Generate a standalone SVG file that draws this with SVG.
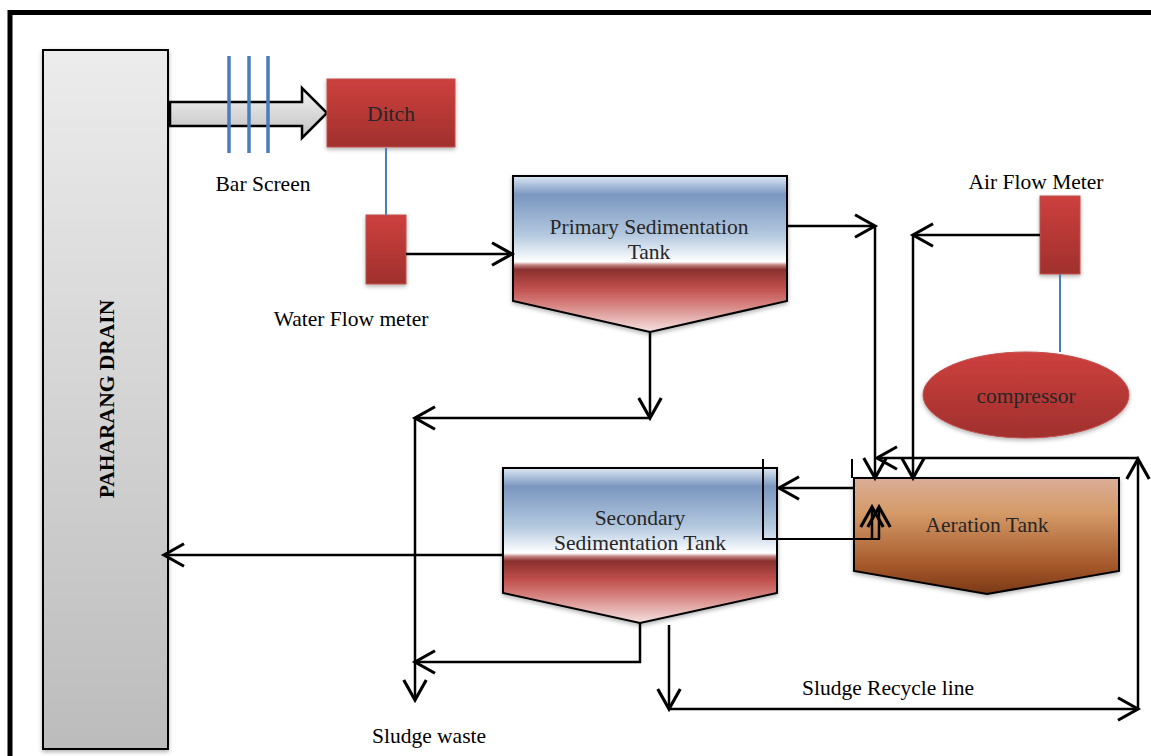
<svg xmlns="http://www.w3.org/2000/svg" width="1151" height="756" viewBox="0 0 1151 756">
<style>
.lbl{font-family:"Liberation Serif","Times New Roman",serif;font-size:21.5px;fill:#000;text-anchor:middle}
.in{font-family:"Liberation Serif","Times New Roman",serif;font-size:21.5px;fill:#262626;text-anchor:middle}
.con{fill:none;stroke:#000;stroke-width:2.5}
.thin{fill:none;stroke:#000;stroke-width:2}
.blue{fill:none;stroke:#4a7ebb;stroke-width:2}
.bar{fill:none;stroke:#4a7ebb;stroke-width:3.5}
.red{fill:url(#gRed);stroke:#c0504d;stroke-width:1;filter:url(#sh)}
.tank{stroke:#000;stroke-width:2;filter:url(#sh)}
</style>
<defs>
<marker id="ah" markerUnits="userSpaceOnUse" markerWidth="30" markerHeight="30" viewBox="-20 -12 24 24" refX="0" refY="0" orient="auto">
<path d="M-16,-9 L0,0 L-16,9" fill="none" stroke="#000" stroke-width="2.5"/>
</marker>
<linearGradient id="gRed" x1="0" y1="0" x2="0" y2="1">
<stop offset="0" stop-color="#cd403e"/>
<stop offset="1" stop-color="#a0302d"/>
</linearGradient>
<linearGradient id="gDrain" x1="0" y1="0" x2="0" y2="1">
<stop offset="0" stop-color="#ececec"/>
<stop offset="1" stop-color="#bcbcbc"/>
</linearGradient>
<linearGradient id="gArrow" x1="0" y1="0" x2="0" y2="1">
<stop offset="0" stop-color="#f4f4f4"/>
<stop offset="1" stop-color="#bfbfbf"/>
</linearGradient>
<linearGradient id="gSed" x1="0" y1="0" x2="0" y2="1">
<stop offset="0" stop-color="#dce8f3"/>
<stop offset="0.12" stop-color="#7a96c0"/>
<stop offset="0.38" stop-color="#b4c9df"/>
<stop offset="0.52" stop-color="#f2f6fa"/>
<stop offset="0.55" stop-color="#ffffff"/>
<stop offset="0.57" stop-color="#c48584"/>
<stop offset="0.60" stop-color="#8a302e"/>
<stop offset="0.72" stop-color="#c0504d"/>
<stop offset="0.82" stop-color="#d57f7c"/>
<stop offset="1" stop-color="#f4e2e1"/>
</linearGradient>
<linearGradient id="gAer" x1="0" y1="0" x2="0" y2="1">
<stop offset="0" stop-color="#dbae98"/>
<stop offset="0.3" stop-color="#d49a68"/>
<stop offset="0.75" stop-color="#a6592b"/>
<stop offset="1" stop-color="#7a3816"/>
</linearGradient>
<filter id="sh" x="-10%" y="-10%" width="120%" height="130%">
<feDropShadow dx="0" dy="2" stdDeviation="2" flood-color="#000" flood-opacity="0.3"/>
</filter>
</defs>

<path d="M10,760 V12.5 H1160" fill="none" stroke="#000" stroke-width="5"/>

<g id="paharang-drain">
<rect x="43" y="50" width="125" height="699" fill="url(#gDrain)" stroke="#000" stroke-width="2" filter="url(#sh)"/>
<text transform="translate(114,399) rotate(-90)" font-family="Liberation Serif,Times New Roman,serif" font-size="21.5" font-weight="bold" text-anchor="middle" fill="#000">PAHARANG DRAIN</text>
</g>

<g id="inflow-arrow">
<path d="M170,102 H302 V88 L327,113 L302,138 V126 H170 Z" fill="url(#gArrow)" stroke="#000" stroke-width="2.5"/>
</g>

<g id="bar-screen">
<path class="bar" d="M229,56 V153 M249,56 V153 M268,56 V153"/>
<text class="lbl" x="263" y="191">Bar Screen</text>
</g>

<g id="ditch">
<rect class="red" x="327" y="79" width="128" height="68"/>
<text class="in" x="391" y="121">Ditch</text>
</g>

<g id="water-flow-meter">
<rect class="red" x="366" y="215" width="40" height="69"/>
<text class="lbl" x="351" y="326">Water Flow meter</text>
</g>

<g id="primary-tank">
<polygon class="tank" points="513,176 787,176 787,301 650,332 513,301" fill="url(#gSed)"/>
<text class="in" x="649" y="234">Primary Sedimentation</text>
<text class="in" x="649" y="259">Tank</text>
</g>

<g id="air-flow-meter">
<rect class="red" x="1040" y="196" width="40" height="78"/>
<text class="lbl" x="1036" y="189">Air Flow Meter</text>
</g>

<g id="compressor">
<ellipse class="red" cx="1026" cy="395" rx="103" ry="43"/>
<text class="in" x="1026" y="403">compressor</text>
</g>

<g id="aeration-tank">
<polygon class="tank" points="854,478 1119,478 1119,571 987,594 854,571" fill="url(#gAer)"/>
<text class="in" x="987" y="532">Aeration Tank</text>
</g>

<g id="secondary-tank">
<polygon class="tank" points="503,468 777,468 777,593 640,623 503,593" fill="url(#gSed)"/>
<text class="in" x="640" y="525">Secondary</text>
<text class="in" x="640" y="550">Sedimentation Tank</text>
</g>

<g id="labels">
<text class="lbl" x="429" y="743">Sludge waste</text>
<text class="lbl" x="888" y="695">Sludge Recycle line</text>
</g>

<g id="connectors">
<path class="blue" d="M386,148 V215"/>
<path class="blue" d="M1060,274 V352"/>
<path class="con" d="M406,254 H512" marker-end="url(#ah)"/>
<path class="con" d="M787,226 H875" marker-end="url(#ah)"/>
<path class="con" d="M875,226 V478" marker-end="url(#ah)"/>
<path class="con" d="M1040,235 H913" marker-end="url(#ah)"/>
<path class="con" d="M913,235 V478" marker-end="url(#ah)"/>
<path class="con" d="M650,332 V418" marker-end="url(#ah)"/>
<path class="con" d="M650,418 H415" marker-end="url(#ah)"/>
<path class="con" d="M415,418 V700" marker-end="url(#ah)"/>
<path class="con" d="M640,623 V662 H415" marker-end="url(#ah)"/>
<path class="con" d="M669,625 V709" marker-end="url(#ah)"/>
<path class="con" d="M669,709 H1138" marker-end="url(#ah)"/>
<path class="con" d="M1138,709 V459" marker-end="url(#ah)"/>
<path class="con" d="M1138,458 H877" marker-end="url(#ah)"/>
<path class="con" d="M503,555 H164" marker-end="url(#ah)"/>
<path class="con" d="M854,488 H779" marker-end="url(#ah)"/>
<path class="thin" d="M763,459 V539 H880"/>
<path class="thin" d="M852,459 V478"/>
<path class="con" d="M872,539 V507" marker-end="url(#ah)"/>
<path class="con" d="M879,539 V507" marker-end="url(#ah)"/>
</g>
</svg>
